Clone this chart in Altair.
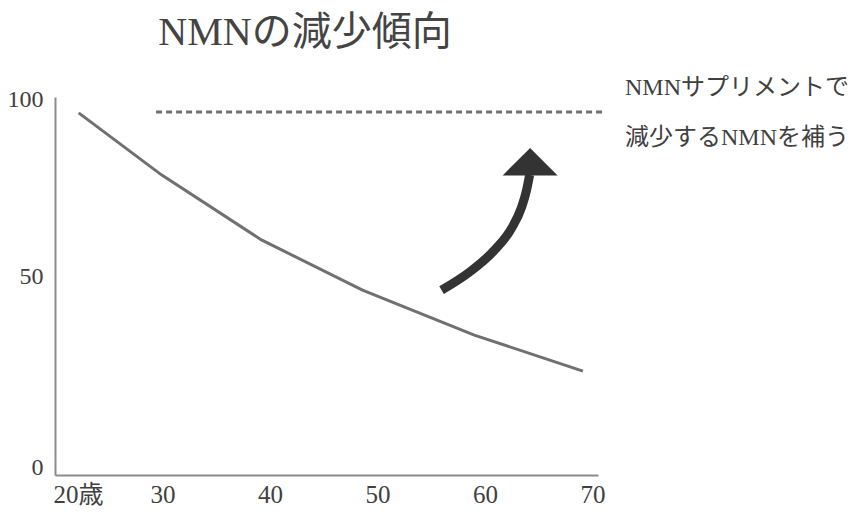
import altair as alt
import pandas as pd

# --- data ---
ages = [22.2, 29.9, 39.2, 48.6, 59.0, 69.1]
nmn_level = [95.8, 79.4, 62.2, 48.9, 37.0, 27.5]

target_start = [29.4]
target_end = [70.9]
target_level = [96.0]

arrow_age = [55.95, 58.56, 60.88, 62.47, 63.40, 63.86, 64.14]
arrow_level = [48.9, 53.7, 59.5, 65.3, 70.9, 75.4, 79.4]
arrow_head_age = [64.19]
arrow_head_level = [82.9]

x_ticks = [20, 30, 40, 50, 60, 70]
x_labels = ["20歳", "30", "40", "50", "60", "70"]
y_ticks = [0, 50, 100]

title_text = "NMNの減少傾向"
note_lines = ["NMNサプリメントで", "減少するNMNを補う"]

FONT = "Liberation Serif, Noto Sans CJK JP"
TXT = "#404040"

line_df = pd.DataFrame({"age": ages, "level": nmn_level})
target_df = pd.DataFrame({"age": target_start, "age2": target_end, "level": target_level})
arrow_df = pd.DataFrame({"age": arrow_age, "level": arrow_level, "o": list(range(len(arrow_age)))})
head_df = pd.DataFrame({"age": arrow_head_age, "level": arrow_head_level})

label_map = "{" + ",".join(f"'{t}':'{l}'" for t, l in zip(x_ticks, x_labels)) + "}"

xscale = alt.Scale(domain=[20, 70.5], nice=False, zero=False)
yscale = alt.Scale(domain=[0, 100], nice=False)

xaxis = alt.Axis(
    values=x_ticks, labelExpr=f"{label_map}[datum.value]", title=None, grid=False,
    ticks=False, tickSize=0, domainColor="#8c8c8c", domainWidth=2,
    labelFont=FONT, labelFontSize=25, labelColor=TXT, labelPadding=27,
    labelBaseline="alphabetic",
    labelAlign=alt.ExprRef(expr="datum.value == 20 ? 'left' : 'center'"),
    labelOffset=alt.ExprRef(expr="datum.value == 20 ? -2 : 0"),
    labelFlush=False, labelOverlap=False,
)
yaxis = alt.Axis(
    values=y_ticks, title=None, grid=False, ticks=False, tickSize=0,
    domainColor="#8c8c8c", domainWidth=2,
    labelFont=FONT, labelFontSize=24, labelColor=TXT, labelPadding=12,
    labelAlign="right", labelBaseline="middle",
    labelOffset=alt.ExprRef(expr="datum.value == 100 ? 2 : (datum.value == 50 ? -10 : -8)"),
    labelFlush=False, labelOverlap=False,
)

X = alt.X("age:Q", scale=xscale, axis=xaxis)
Y = alt.Y("level:Q", scale=yscale, axis=yaxis)

line = alt.Chart(line_df).mark_line(color="#707070", strokeWidth=3, clip=False).encode(x=X, y=Y)

target = alt.Chart(target_df).mark_rule(
    color="#707070", strokeWidth=3, strokeDash=[6, 4], clip=False
).encode(x=X, x2="age2:Q", y=Y)

shaft = alt.Chart(arrow_df).mark_line(
    color="#333333", strokeWidth=9, interpolate="monotone", strokeCap="butt", clip=False
).encode(x=X, y=Y, order="o:Q")

head = alt.Chart(head_df).mark_point(
    shape="M-1,0.5L1,0.5L0,-0.5Z", size=3025, filled=True, color="#333333", opacity=1, clip=False
).encode(x=X, y=Y)

title = alt.Chart(pd.DataFrame({"t": [title_text]})).mark_text(
    font=FONT, fontSize=40, color="#444444", align="center", baseline="middle"
).encode(text="t:N", x=alt.value(250), y=alt.value(-64))

note1 = alt.Chart(pd.DataFrame({"t": [note_lines[0]]})).mark_text(
    font=FONT, fontSize=24, color=TXT, align="left", baseline="middle"
).encode(text="t:N", x=alt.value(570), y=alt.value(-9))

note2 = alt.Chart(pd.DataFrame({"t": [note_lines[1]]})).mark_text(
    font=FONT, fontSize=24, color=TXT, align="left", baseline="middle"
).encode(text="t:N", x=alt.value(570), y=alt.value(41))

chart = alt.layer(line, target, shaft, head, title, note1, note2).properties(
    width=543, height=378,
    autosize=alt.AutoSizeParams(type="none"),
    padding={"left": 47, "top": 89, "right": 257, "bottom": 31},
).configure_view(stroke=None)

chart.save("out.html", embed_options={"renderer": "svg", "actions": False})
